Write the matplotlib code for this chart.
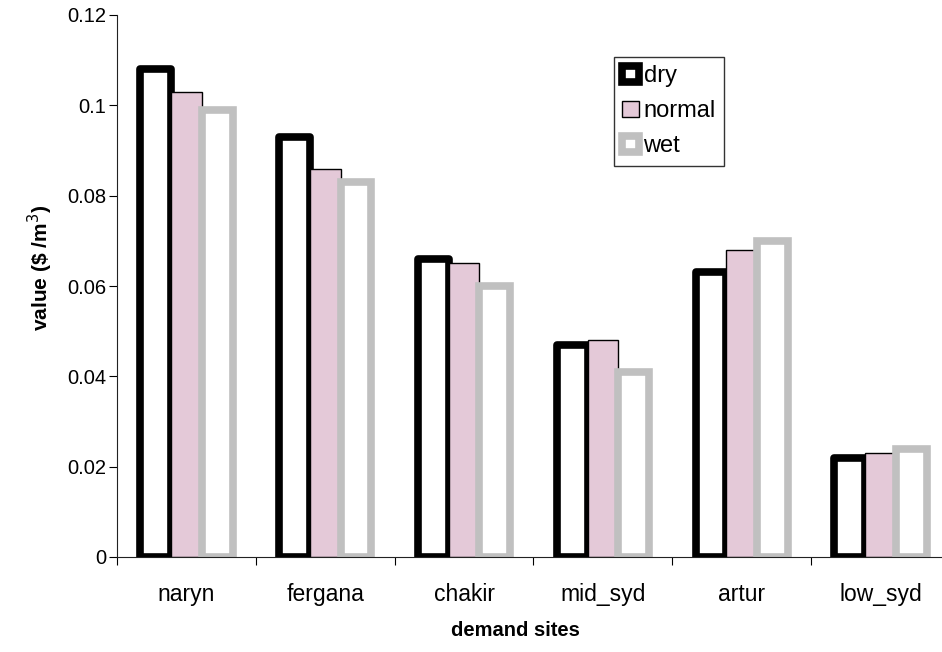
import matplotlib
matplotlib.use('Agg')
import matplotlib.pyplot as plt
import numpy as np

plt.rcParams['font.family'] = ['Liberation Sans', 'DejaVu Sans']
plt.rcParams['font.size'] = 14

# data
sites = ['naryn', 'fergana', 'chakir', 'mid_syd', 'artur', 'low_syd']
dry = [0.108, 0.093, 0.066, 0.047, 0.063, 0.022]
normal = [0.103, 0.086, 0.065, 0.048, 0.068, 0.023]
wet = [0.099, 0.083, 0.060, 0.041, 0.070, 0.024]

fig = plt.figure(figsize=(9.42, 6.52), dpi=100)
ax = fig.add_axes([117 / 942, 95 / 652, 833 / 942, 542 / 652])

x = np.arange(len(sites))
w = 0.222

ax.bar(x - w, dry, w, facecolor='white', edgecolor='black', linewidth=5.5,
       joinstyle='round', label='dry', zorder=2)
ax.bar(x, normal, w, facecolor='#E4C9D8', edgecolor='black', linewidth=1,
       label='normal', zorder=2)
ax.bar(x + w, wet, w, facecolor='white', edgecolor='#C0C0C0', linewidth=5.5,
       joinstyle='miter', label='wet', zorder=2)

ax.set_xlim(-0.5, len(sites) - 0.5)
ax.set_ylim(0, 0.12)
ax.set_yticks(np.arange(0, 0.121, 0.02))
ax.set_yticklabels(['0', '0.02', '0.04', '0.06', '0.08', '0.1', '0.12'],
                   fontsize=14.5)

# category boundaries as major ticks, names centred as minor labels
ax.set_xticks(np.arange(-0.5, len(sites), 1.0))
ax.set_xticklabels([])
ax.set_xticks(x, minor=True)
ax.set_xticklabels(sites, minor=True, fontsize=16.5)
ax.tick_params(axis='x', which='major', direction='out', length=6, width=0.8)
ax.tick_params(axis='x', which='minor', length=0, pad=19)
ax.tick_params(axis='y', direction='out', length=6, width=0.8, pad=2)

for s in ['top', 'right']:
    ax.spines[s].set_visible(False)
for s in ['left', 'bottom']:
    ax.spines[s].set_linewidth(0.8)
    ax.spines[s].set_color('#222222')

ax.set_xlabel('demand sites', fontweight='bold', fontsize=14.5)
ax.xaxis.set_label_coords((515 - 117) / 833, -(631 - 557) / 542)
ax.xaxis.label.set_va('center')
ax.set_ylabel(r'value (\$ /m$^{3}$)', fontweight='bold', fontsize=15)
ax.yaxis.set_label_coords(-(117 - 40) / 833, (557 - 268) / 542)
ax.yaxis.label.set_va('center')

leg = ax.legend(loc='upper left', bbox_to_anchor=(614 / 942, 1 - 57 / 652),
                bbox_transform=fig.transFigure, frameon=True, fancybox=False,
                edgecolor='black', fontsize=17, handlelength=0.7,
                handleheight=0.7, handletextpad=0.2, labelspacing=0.55,
                borderpad=0.35, borderaxespad=0)
leg.get_frame().set_linewidth(1)

fig.savefig('out.png', dpi=100)
